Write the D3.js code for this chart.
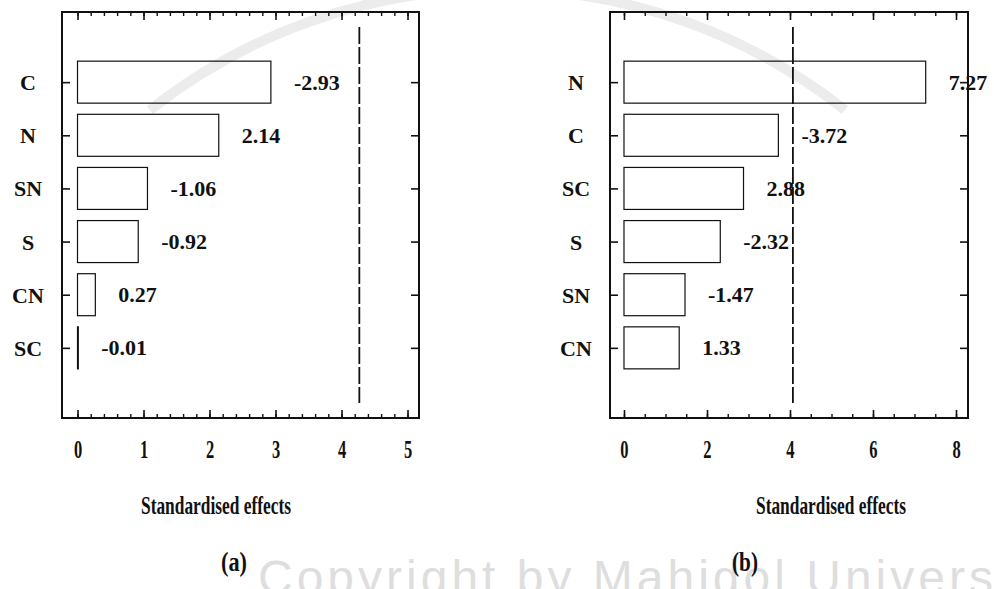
<!DOCTYPE html>
<html>
<head>
<meta charset="utf-8">
<script src="https://cdn.jsdelivr.net/npm/d3@7"></script>
<style>
  html, body { margin: 0; padding: 0; background: #fff; }
  svg { display: block; }
  text { font-family: "Liberation Serif", "Times New Roman", serif; font-weight: bold; fill: #111; }
</style>
</head>
<body>
<svg id="chart" width="994" height="589"></svg>
<script>
// Pareto-style standardised effects, two models
const catsA = ["C", "N", "SN", "S", "CN", "SC"];
const valsA = [-2.93, 2.14, -1.06, -0.92, 0.27, -0.01];
const critA = 4.27;
const ticksA = [0, 1, 2, 3, 4, 5];

const catsB = ["N", "C", "SC", "S", "SN", "CN"];
const valsB = [7.27, -3.72, 2.88, -2.32, -1.47, 1.33];
const critB = 4.07;
const ticksB = [0, 2, 4, 6, 8];

const axisTitle = "Standardised effects";
const panelTags = ["(a)", "(b)"];

const svg = d3.select("#chart");
const ink = "#111";

// plain hyphen for negative numbers
const locale = d3.formatLocale({ decimal: ".", thousands: ",", grouping: [3], currency: ["", ""], minus: "-" });
const fmt = locale.format(".2f");

// faint seal watermark
const wm = svg.append("g").attr("fill", "none").attr("stroke", "#ececec");
wm.append("path").attr("d", "M150,110 A560,560 0 0,1 845,110").attr("stroke-width", 10);
svg.append("text")
  .attr("x", 258).attr("y", 594)
  .style("font-family", "'Liberation Sans', Arial, sans-serif")
  .style("font-weight", "normal")
  .style("font-size", "48px")
  .style("letter-spacing", "4px")
  .style("fill", "#dedede")
  .text("Copyright by Mahidol University");

const plotTop = 12, plotBottom = 418;

function panel(cfg) {
  const g = svg.append("g");
  const x = d3.scaleLinear().domain(cfg.xDomain).range([cfg.left, cfg.right]);
  const y = d3.scalePoint().domain(cfg.cats).range([plotTop, plotBottom]).padding(1.32);
  const rows = cfg.cats.map((c, i) => ({ c, v: cfg.vals[i] }));
  const barH = 42;

  // critical value line
  g.append("line")
    .attr("x1", x(cfg.crit)).attr("x2", x(cfg.crit))
    .attr("y1", 27).attr("y2", 403)
    .attr("stroke", ink).attr("stroke-width", 1.8)
    .attr("stroke-dasharray", "17,3");

  // bars (absolute effect)
  g.selectAll("rect.bar").data(rows).join("rect")
    .attr("class", "bar")
    .attr("x", x(0))
    .attr("y", d => y(d.c) - barH / 2)
    .attr("width", d => Math.max(0.8, x(Math.abs(d.v)) - x(0)))
    .attr("height", barH)
    .attr("fill", "none")
    .attr("stroke", ink)
    .attr("stroke-width", 1.2);

  // effect labels
  g.selectAll("text.val").data(rows).join("text")
    .attr("class", "val")
    .attr("x", d => x(Math.abs(d.v)) + 23)
    .attr("y", d => y(d.c) + 7.5)
    .style("font-size", "22px")
    .text(d => fmt(d.v));

  // axes with inward ticks
  const minor = d3.range(0, cfg.ticks[cfg.ticks.length - 1] + 1e-9, cfg.minorStep)
    .filter(v => x(v) < cfg.right - 2);

  const bottomMajor = d3.axisBottom(x).tickValues(cfg.ticks).tickSizeInner(-8).tickSizeOuter(0)
    .tickPadding(22).tickFormat(d3.format("d"));
  const gb = g.append("g").attr("transform", `translate(0,${plotBottom})`).call(bottomMajor);
  gb.select(".domain").remove();
  gb.selectAll("line").attr("stroke", ink).attr("stroke-width", 1.6);
  gb.selectAll("text")
    .attr("transform", "scale(0.66,1)")
    .style("font-size", "25px")
    .style("font-family", "'Liberation Serif', 'Times New Roman', serif")
    .style("font-weight", "bold")
    .attr("fill", ink);

  const gbm = g.append("g").attr("transform", `translate(0,${plotBottom})`)
    .call(d3.axisBottom(x).tickValues(minor).tickSizeInner(-4).tickSizeOuter(0).tickFormat(""));
  gbm.select(".domain").remove();
  gbm.selectAll("line").attr("stroke", ink).attr("stroke-width", 1.4);

  const gt = g.append("g").attr("transform", `translate(0,${plotTop})`)
    .call(d3.axisTop(x).tickValues(cfg.ticks).tickSizeInner(-8).tickSizeOuter(0).tickFormat(""));
  gt.select(".domain").remove();
  gt.selectAll("line").attr("stroke", ink).attr("stroke-width", 1.6);
  const gtm = g.append("g").attr("transform", `translate(0,${plotTop})`)
    .call(d3.axisTop(x).tickValues(minor).tickSizeInner(-4).tickSizeOuter(0).tickFormat(""));
  gtm.select(".domain").remove();
  gtm.selectAll("line").attr("stroke", ink).attr("stroke-width", 1.4);

  const gl = g.append("g").attr("transform", `translate(${cfg.left},0)`)
    .call(d3.axisLeft(y).tickSizeInner(-8).tickSizeOuter(0).tickPadding(0));
  gl.select(".domain").remove();
  gl.selectAll("line").attr("stroke", ink).attr("stroke-width", 1.6);
  gl.selectAll("text")
    .attr("x", -34).attr("dy", null).attr("y", 7.5)
    .attr("text-anchor", "middle")
    .style("font-size", "22px")
    .style("font-family", "'Liberation Serif', 'Times New Roman', serif")
    .style("font-weight", "bold")
    .attr("fill", ink);

  const gr = g.append("g").attr("transform", `translate(${cfg.right},0)`)
    .call(d3.axisRight(y).tickSizeInner(-8).tickSizeOuter(0).tickFormat(""));
  gr.select(".domain").remove();
  gr.selectAll("line").attr("stroke", ink).attr("stroke-width", 1.6);

  // frame
  g.append("rect")
    .attr("x", cfg.left).attr("y", plotTop)
    .attr("width", cfg.right - cfg.left).attr("height", plotBottom - plotTop)
    .attr("fill", "none").attr("stroke", ink).attr("stroke-width", 2);

  // axis title and panel tag (narrow lettering)
  g.append("text")
    .attr("x", cfg.titleX - 75).attr("y", 514)
    .attr("textLength", 150).attr("lengthAdjust", "spacingAndGlyphs")
    .style("font-size", "25px")
    .text(axisTitle);
  g.append("text")
    .attr("x", cfg.tagX - 13).attr("y", 571)
    .attr("textLength", 26).attr("lengthAdjust", "spacingAndGlyphs")
    .style("font-size", "28px")
    .text(cfg.tag);
}

panel({ cats: catsA, vals: valsA, crit: critA, ticks: ticksA, minorStep: 0.2,
        xDomain: [-0.235, 5.174], left: 62, right: 419, titleX: 216, tagX: 234, tag: panelTags[0] });
panel({ cats: catsB, vals: valsB, crit: critB, ticks: ticksB, minorStep: 0.5,
        xDomain: [-0.337, 8.289], left: 610, right: 968, titleX: 831, tagX: 745, tag: panelTags[1] });
</script>
</body>
</html>
